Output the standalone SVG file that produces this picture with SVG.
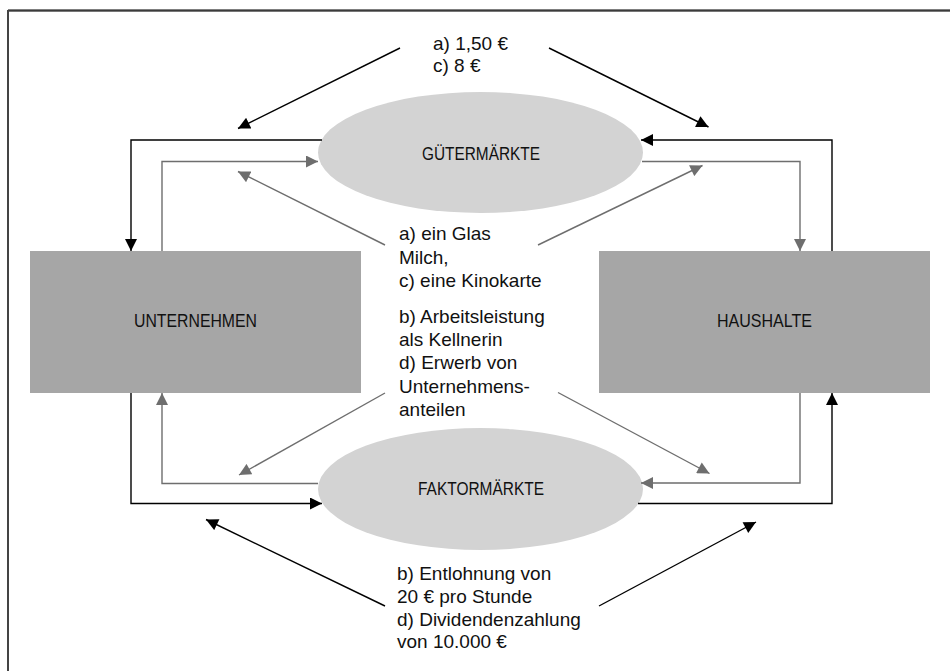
<svg xmlns="http://www.w3.org/2000/svg" width="950" height="671" viewBox="0 0 950 671">
<defs>
<style>
text{font-family:"Liberation Sans",Arial,sans-serif;fill:#111}
.lbl{font-size:19px}
.txt{font-size:19px}
.box{fill:#a6a6a6}
.ell{fill:#d3d3d3}
.k{fill:none;stroke:#000;stroke-width:1.4;marker-end:url(#ak)}
.g{fill:none;stroke:#6e6e6e;stroke-width:1.4;marker-end:url(#ag)}
</style>
<marker id="ak" viewBox="0 0 12 12" refX="12" refY="6" markerWidth="13" markerHeight="12" markerUnits="userSpaceOnUse" orient="auto"><path d="M0,0 L12,6 L0,12 Z" fill="#000"/></marker>
<marker id="ag" viewBox="0 0 12 12" refX="12" refY="6" markerWidth="13" markerHeight="12" markerUnits="userSpaceOnUse" orient="auto"><path d="M0,0 L12,6 L0,12 Z" fill="#6e6e6e"/></marker>
</defs>
<rect width="950" height="671" fill="#fff"/>
<g id="frame">
<line x1="8" y1="11" x2="950" y2="11" stroke="#777" stroke-width="2"/>
<line x1="8" y1="10" x2="950" y2="10" stroke="#000" stroke-width="1.2"/>
<line x1="8" y1="10" x2="8" y2="671" stroke="#444" stroke-width="2"/>
</g>
<g id="unternehmen"><rect class="box" x="30" y="251" width="331" height="142"/><text class="lbl" x="134" y="327" textLength="123" lengthAdjust="spacingAndGlyphs">UNTERNEHMEN</text></g>
<g id="haushalte"><rect class="box" x="599" y="251" width="331" height="142"/><text class="lbl" x="717" y="327" textLength="95" lengthAdjust="spacingAndGlyphs">HAUSHALTE</text></g>
<g id="guetermaerkte"><ellipse class="ell" cx="480.5" cy="152.5" rx="162.5" ry="60.5"/><text class="lbl" x="422" y="160" textLength="118" lengthAdjust="spacingAndGlyphs">GÜTERMÄRKTE</text></g>
<g id="faktormaerkte"><ellipse class="ell" cx="480.5" cy="489" rx="162.5" ry="61"/><text class="lbl" x="418" y="495" textLength="126" lengthAdjust="spacingAndGlyphs">FAKTORMÄRKTE</text></g>
<g id="connectors">
<path class="k" d="M322,140 H131 V251"/>
<path class="g" d="M162,251 V161.5 H318"/>
<path class="k" d="M832,251 V140 H641"/>
<path class="g" d="M642,161.5 H800 V251"/>
<path class="g" d="M318,483.5 H162 V393"/>
<path class="k" d="M131,393 V503.5 H322"/>
<path class="g" d="M800,393 V483 H641"/>
<path class="k" d="M638,503.5 H832 V393"/>
<path class="k" d="M400,48 L238,128.5"/>
<path class="k" d="M549,48 L708.5,127"/>
<path class="g" d="M385,245 L238,171.5"/>
<path class="g" d="M538,245 L702.5,165.5"/>
<path class="g" d="M385,393 L239,475"/>
<path class="g" d="M558,392.5 L709.5,473.5"/>
<path class="k" d="M385,606 L206,519.5"/>
<path class="k" d="M599,606 L756,522"/>
</g>
<g id="labels">
<text class="txt" x="433" y="50">a) 1,50 €</text>
<text class="txt" x="433" y="72">c) 8 €</text>
<text class="txt" x="399" y="240">a) ein Glas</text>
<text class="txt" x="399" y="263.5">Milch,</text>
<text class="txt" x="399" y="287">c) eine Kinokarte</text>
<text class="txt" x="399" y="322.5">b) Arbeitsleistung</text>
<text class="txt" x="399" y="346">als Kellnerin</text>
<text class="txt" x="399" y="369">d) Erwerb von</text>
<text class="txt" x="399" y="392.5">Unternehmens-</text>
<text class="txt" x="399" y="416">anteilen</text>
<text class="txt" x="397" y="580">b) Entlohnung von</text>
<text class="txt" x="397" y="603">20 € pro Stunde</text>
<text class="txt" x="397" y="625.5">d) Dividendenzahlung</text>
<text class="txt" x="397" y="648">von 10.000 €</text>
</g>
</svg>
